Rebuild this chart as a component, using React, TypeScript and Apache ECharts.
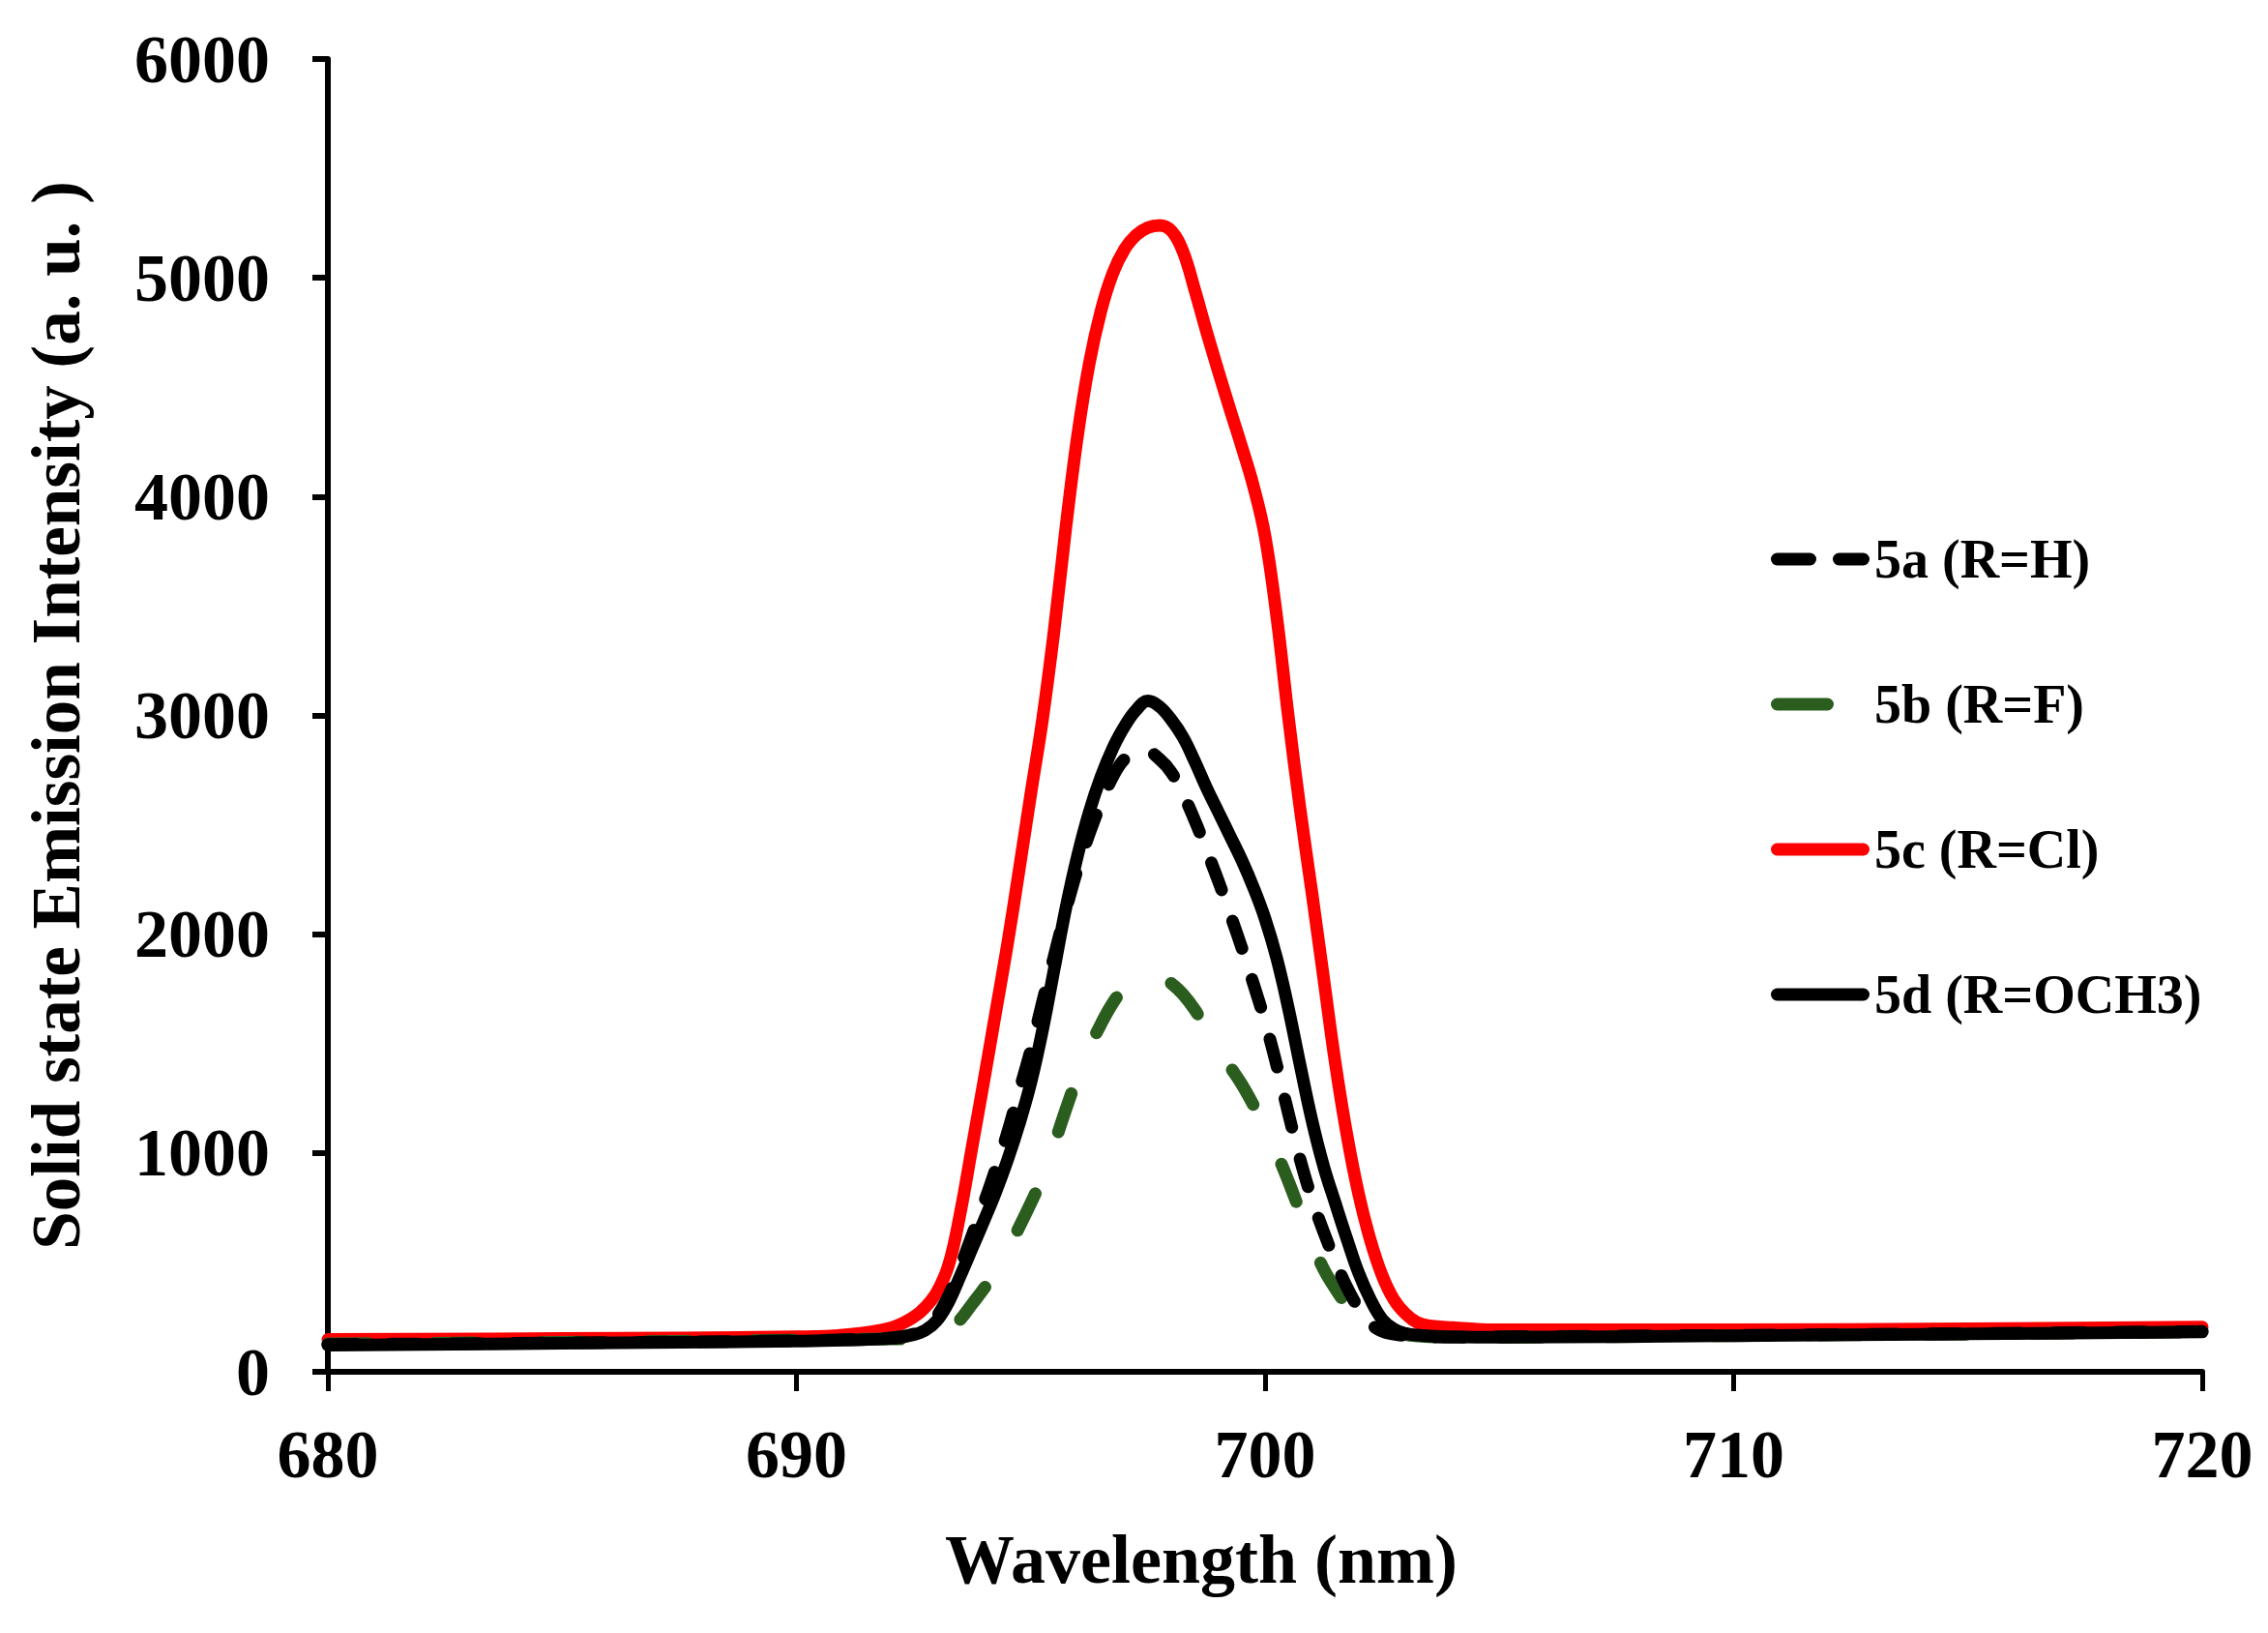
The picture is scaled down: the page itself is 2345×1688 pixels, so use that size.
import React, { useEffect, useRef } from "react";
import * as echarts from "echarts";

const wavelengths = [
  680, 685, 690, 691, 692,
  692.5, 692.75, 693, 693.25, 693.5, 693.75, 694, 694.25, 694.5, 694.75,
  695, 695.25, 695.5, 695.75, 696, 696.25, 696.5, 696.75, 697, 697.25,
  697.5, 697.75, 698, 698.25, 698.5, 698.75, 699, 699.25, 699.5, 699.75,
  700, 700.25, 700.5, 700.75, 701, 701.25, 701.5, 701.75, 702, 702.25,
  702.5, 702.75, 703, 703.25, 703.5,
  704, 705, 710, 715, 720,
];

const s5a = [
  125, 132, 142, 147, 155,
  172, 200, 255, 350, 480, 625, 770, 925, 1090, 1280,
  1470, 1690, 1900, 2110, 2300, 2460, 2600, 2720, 2800, 2828,
  2832, 2800, 2740, 2640, 2520, 2385, 2245, 2095, 1940, 1775,
  1600, 1400, 1180, 970, 790, 640, 505, 385, 290, 220,
  185, 172, 165, 162, 160,
  158, 160, 167, 175, 185,
];
const s5b = [
  128, 135, 145, 148, 150,
  150, 153, 165, 190, 240, 310, 380, 460, 550, 660,
  770, 890, 1040, 1200, 1350, 1480, 1590, 1685, 1755, 1800,
  1815, 1808, 1775, 1725, 1655, 1565, 1475, 1395, 1315, 1220,
  1115, 1000, 870, 730, 590, 470, 380, 305, 250, 215,
  195, 180, 170, 164, 160,
  158, 158, 165, 173, 182,
];
const s5c = [
  148, 152, 160, 168, 200,
  250, 295, 365, 490, 730, 1030, 1330, 1640, 1950, 2290,
  2640, 2980, 3390, 3860, 4280, 4610, 4850, 5020, 5130, 5195,
  5230, 5240, 5215, 5120, 4945, 4755, 4575, 4400, 4230, 4050,
  3820, 3450, 2990, 2570, 2190, 1800, 1410, 1080, 810, 600,
  440, 330, 265, 225, 210,
  202, 192, 192, 197, 205,
];
const s5d = [
  122, 130, 140, 145, 152,
  170, 190, 235, 320, 440, 565, 690, 820, 965, 1130,
  1320, 1560, 1840, 2120, 2360, 2560, 2720, 2850, 2950, 3025,
  3066, 3040, 2980, 2900, 2790, 2670, 2560, 2450, 2340, 2215,
  2071, 1890, 1660, 1400, 1150, 940, 770, 605, 450, 330,
  240, 195, 175, 168, 164,
  160, 158, 165, 173, 182,
];

const seriesNames = ["5a (R=H)", "5b (R=F)", "5c (R=Cl)", "5d (R=OCH3)"];
const xTitle = "Wavelength (nm)";
const yTitle = "Solid state Emission Intensity (a. u. )";

const FONT = "'Liberation Serif', 'Times New Roman', serif";

// capsule-shaped legend dash from a to b inside a 102 x 13 box
const capsule = (a: number, b: number) =>
  `M${a + 6.5},0 L${b - 6.5},0 A6.5,6.5 0 0 1 ${b - 6.5},13 L${a + 6.5},13 A6.5,6.5 0 0 1 ${a + 6.5},0 Z`;
const extentMark = "M101.8,6.4 L102,6.5 L101.8,6.6 Z";
const legendIcons = [
  "path://" + capsule(0, 47) + " " + capsule(64, 102),
  "path://" + capsule(0, 65) + " " + extentMark,
  "path://" + capsule(0, 102),
  "path://" + capsule(0, 102),
];

export default function App() {
  const ref = useRef<HTMLDivElement>(null);
  useEffect(() => {
    const chart = echarts.init(ref.current!, null, { renderer: "svg" });
    const pairs = (ys: number[]) => wavelengths.map((x, i) => [x, ys[i]]);
    const mk = (name: string, ys: number[], color: string, dash: any) => ({
      name,
      type: "line",
      data: pairs(ys),
      smooth: 0.4,
      symbol: "none",
      lineStyle: { color, width: 13, type: dash, cap: "round", join: "round" },
      itemStyle: { color },
    });
    chart.setOption({
      animation: false,
      backgroundColor: "#ffffff",
      grid: { left: 339, right: 68, top: 61, bottom: 270, containLabel: false },
      legend: {
        orient: "vertical",
        left: 1826,
        top: 545,
        itemWidth: 102,
        itemHeight: 13,
        itemGap: 94,
        data: seriesNames.map((name, i) => ({ name, icon: legendIcons[i] })),
        textStyle: { fontFamily: FONT, fontWeight: "bold", fontSize: 56, color: "#000", lineHeight: 54 },
      },
      xAxis: {
        type: "value",
        min: 680,
        max: 720,
        interval: 10,
        name: xTitle,
        nameLocation: "middle",
        nameGap: 158,
        nameTextStyle: { fontFamily: FONT, fontWeight: "bold", fontSize: 72, color: "#000", padding: [0, 132, 0, 0] },
        axisLine: { show: true, lineStyle: { color: "#000", width: 6 } },
        axisTick: { show: true, length: 20, lineStyle: { color: "#000", width: 5 } },
        axisLabel: { fontFamily: FONT, fontWeight: "bold", fontSize: 70, color: "#000", margin: 50 },
        splitLine: { show: false },
      },
      yAxis: {
        type: "value",
        min: 0,
        max: 6000,
        interval: 1000,
        name: yTitle,
        nameLocation: "middle",
        nameGap: 246,
        nameTextStyle: { fontFamily: FONT, fontWeight: "bold", fontSize: 71, color: "#000" },
        axisLine: { show: true, lineStyle: { color: "#000", width: 6 } },
        axisTick: { show: true, length: 16, lineStyle: { color: "#000", width: 6 } },
        axisLabel: {
          fontFamily: FONT,
          fontWeight: "bold",
          fontSize: 70,
          color: "#000",
          margin: 60,
          formatter: (v: number) => String(v),
        },
        splitLine: { show: false },
      },
      series: [
        mk(seriesNames[2], s5c, "#ff0000", "solid"),
        mk(seriesNames[1], s5b, "#2b5e1e", [42, 68]),
        mk(seriesNames[0], s5a, "#000000", [30, 34]),
        mk(seriesNames[3], s5d, "#000000", "solid"),
      ],
    });
    return () => chart.dispose();
  }, []);
  return (
    <div
      ref={ref}
      style={{ position: "fixed", left: 0, top: 0, width: 2345, height: 1688, background: "#fff" }}
    />
  );
}
